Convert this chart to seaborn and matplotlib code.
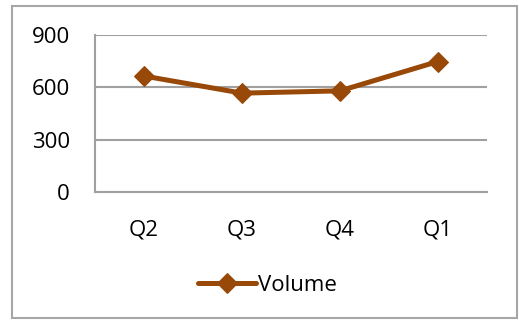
import pandas as pd
import matplotlib.pyplot as plt
import seaborn as sns
from matplotlib.patches import Rectangle

# values
quarters = ["Q2", "Q3", "Q4", "Q1"]
volume = [665, 567, 580, 748]
y_ticks = [0, 300, 600, 900]

df = pd.DataFrame({"quarter": quarters, "Volume": volume})

sns.set_style("white")
plt.rcParams['font.family'] = ['Open Sans', 'DejaVu Sans']
plt.rcParams['text.color'] = 'black'
plt.rcParams['xtick.color'] = 'black'
plt.rcParams['ytick.color'] = 'black'

fig = plt.figure(figsize=(5.19, 3.24), dpi=100)
ax = fig.add_axes([0.183, 0.407, 0.755, 0.485])

line_color = "#984807"
sns.lineplot(x="quarter", y="Volume", data=df, ax=ax, color=line_color,
             linewidth=3.6, marker="D", markersize=10, markeredgecolor=line_color,
             label="Volume", sort=False)

ax.set_xlim(-0.5, 3.5)
ax.set_ylim(0, 900)
ax.set_yticks(y_ticks)
ax.yaxis.grid(True, color="#a0a0a0", linewidth=1.5)
ax.set_axisbelow(True)
ax.set_xlabel("")
ax.set_ylabel("")
for s in ["top", "right"]:
    ax.spines[s].set_visible(False)
ax.spines["left"].set_color("#a0a0a0")
ax.spines["bottom"].set_color("#a0a0a0")
ax.spines["left"].set_linewidth(1.5)
ax.spines["bottom"].set_linewidth(1.5)
ax.tick_params(axis="y", length=0, pad=18, labelsize=16, labelcolor="black")
ax.tick_params(axis="x", length=0, pad=20, labelsize=16, labelcolor="black")

ax.legend_.remove()
handles, labels = ax.get_legend_handles_labels()
fig.legend(handles, labels, loc="center", bbox_to_anchor=(0.515, 0.12),
           frameon=False, fontsize=16, handlelength=2.6, handletextpad=0.1,
           labelcolor="black")

# outer chart border
fig.patches.append(Rectangle((12 / 519, 6 / 324), 505 / 519, 312 / 324,
                             transform=fig.transFigure, fill=False,
                             edgecolor="#a6a6a6", linewidth=1.5))

plt.savefig("out.png", dpi=100)
